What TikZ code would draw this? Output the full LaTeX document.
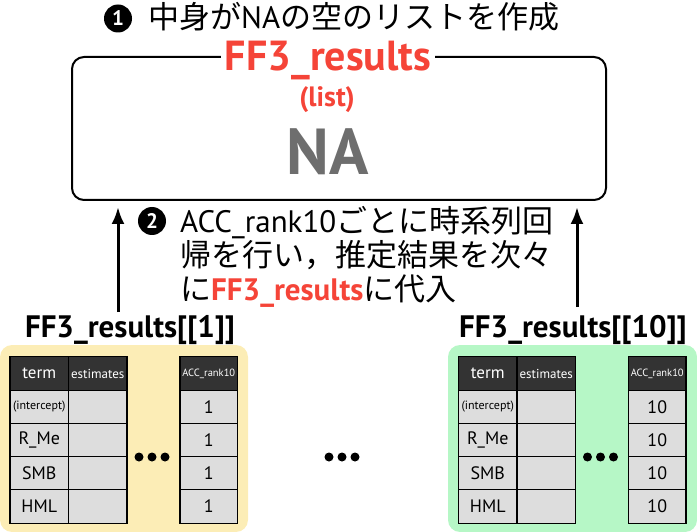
\documentclass[tikz,border=0pt]{standalone}
\usepackage{fontspec}
\setmainfont{PT Sans}
\newfontfamily\jp{Noto Sans CJK JP}
\usepackage{tikz}
\usetikzlibrary{arrows.meta}
\definecolor{ffred}{RGB}{245,68,56}
\definecolor{hdgray}{RGB}{51,51,51}
\definecolor{cellgray}{RGB}{221,221,221}
\definecolor{nagray}{RGB}{110,110,110}
\definecolor{panelyellow}{RGB}{252,237,182}
\definecolor{panelgreen}{RGB}{182,247,198}

\begin{document}
\begin{tikzpicture}[x=1pt,y=-1pt]
      \tikzset { num/.style = { shape=circle,fill=black,text=white,inner sep=0pt,minimum size=28pt,font=\fontsize{21}{21}\selectfont\bfseries } }
      \tikzset { hd/.style = { draw,fill=hdgray,text=white,line width=1.2pt,inner sep=0pt,minimum height=33.25pt } }
      \tikzset { cl/.style = { draw,fill=cellgray,line width=1.2pt,inner sep=0pt,minimum height=33.25pt } }
      \tikzset { uparrow/.style = { -{Latex[length=17pt,width=13pt]},line width=3pt,shorten >=6pt } }

      \useasboundingbox (0,0) rectangle (697,532);

      % panels
      \fill[panelyellow,rounded corners=12pt] (0,345) rectangle (248,532);
      \fill[panelgreen,rounded corners=12pt] (448,345) rectangle (697,532);

      % step 1
      \node[num] (n1) at (118,18.5) {1};
      \node[anchor=base west,inner sep=0pt,font=\fontsize{31}{31}\selectfont] (title) at (148,29) {{\jp 中身が}NA{\jp の空のリストを作成}};

      \node[draw,line width=2pt,rounded corners=12pt,minimum width=534pt,minimum height=143pt] (box) at (339,128.5) {};
      \node[fill=white,text=ffred,inner xsep=4pt,inner ysep=0pt,anchor=base,font=\fontsize{42}{42}\selectfont\bfseries] (name) at (328,71) {FF3\_results};
      \node[text=ffred,anchor=base,font=\fontsize{28}{28}\selectfont\bfseries] (type) at (327,107) {(list)};
      \node[text=nagray,anchor=base,font=\fontsize{65}{65}\selectfont\bfseries] (na) at (328,175) {NA};

      % step 2
      \node[num] (n2) at (152,221) {2};
      \node[anchor=north west,align=left,inner sep=0pt,font=\fontsize{31}{34}\selectfont] (s2txt) at (180,206)
        {ACC\_rank10{\jp ごとに時系列回}\\{\jp 帰を行い，推定結果を次々}\\{\jp に}{\color{ffred}\bfseries FF3\_results}{\jp に代入}};

      \node[anchor=base,font=\fontsize{31}{31}\selectfont\bfseries] (lab1) at (130,337) {FF3\_results[[1]]};
      \node[anchor=base,font=\fontsize{31}{31}\selectfont\bfseries] (lab10) at (573,337) {FF3\_results[[10]]};

      \coordinate (s1) at (118,312);
      \coordinate (s10) at (577,307);
      \draw[uparrow] (s1) to (s1 |- box.south);
      \draw[uparrow] (s10) to (s10 |- box.south);

      % result tables
      \foreach \x/\v/\p in {10/1/a,458.5/10/b} {
        \node[hd,minimum width=58.5pt,font=\fontsize{17}{17}\selectfont] (\p-term) at (\x+29.25,373.5) {term};
        \node[hd,minimum width=58.5pt,font=\fontsize{13}{13}\selectfont] (\p-est) at (\x+87.75,373.5) {estimates};
        \node[hd,minimum width=57.5pt,font=\fontsize{10.5}{10.5}\selectfont] (\p-acc) at (\x+198.75,373.5) {ACC\_rank10};
        \foreach \t/\s [count=\i] in {{(intercept)}/12,R\_Me/18,SMB/18,HML/18} {
          \node[cl,minimum width=58.5pt,font=\fontsize{\s}{\s}\selectfont] (\p-t\i) at (\x+29.25,373.5+33.25*\i) {\t};
          \node[cl,minimum width=58.5pt] (\p-e\i) at (\x+87.75,373.5+33.25*\i) {};
          \node[cl,minimum width=57.5pt,font=\fontsize{18}{18}\selectfont] (\p-v\i) at (\x+198.75,373.5+33.25*\i) {\v};
        }
        \foreach \d in {-13,0,13} \fill (\x+142+\d,457) circle (4.5pt);
      }
      \foreach \d in {-13,0,13} \fill (342+\d,457) circle (4.5pt);

    \end{tikzpicture}
\end{document}
